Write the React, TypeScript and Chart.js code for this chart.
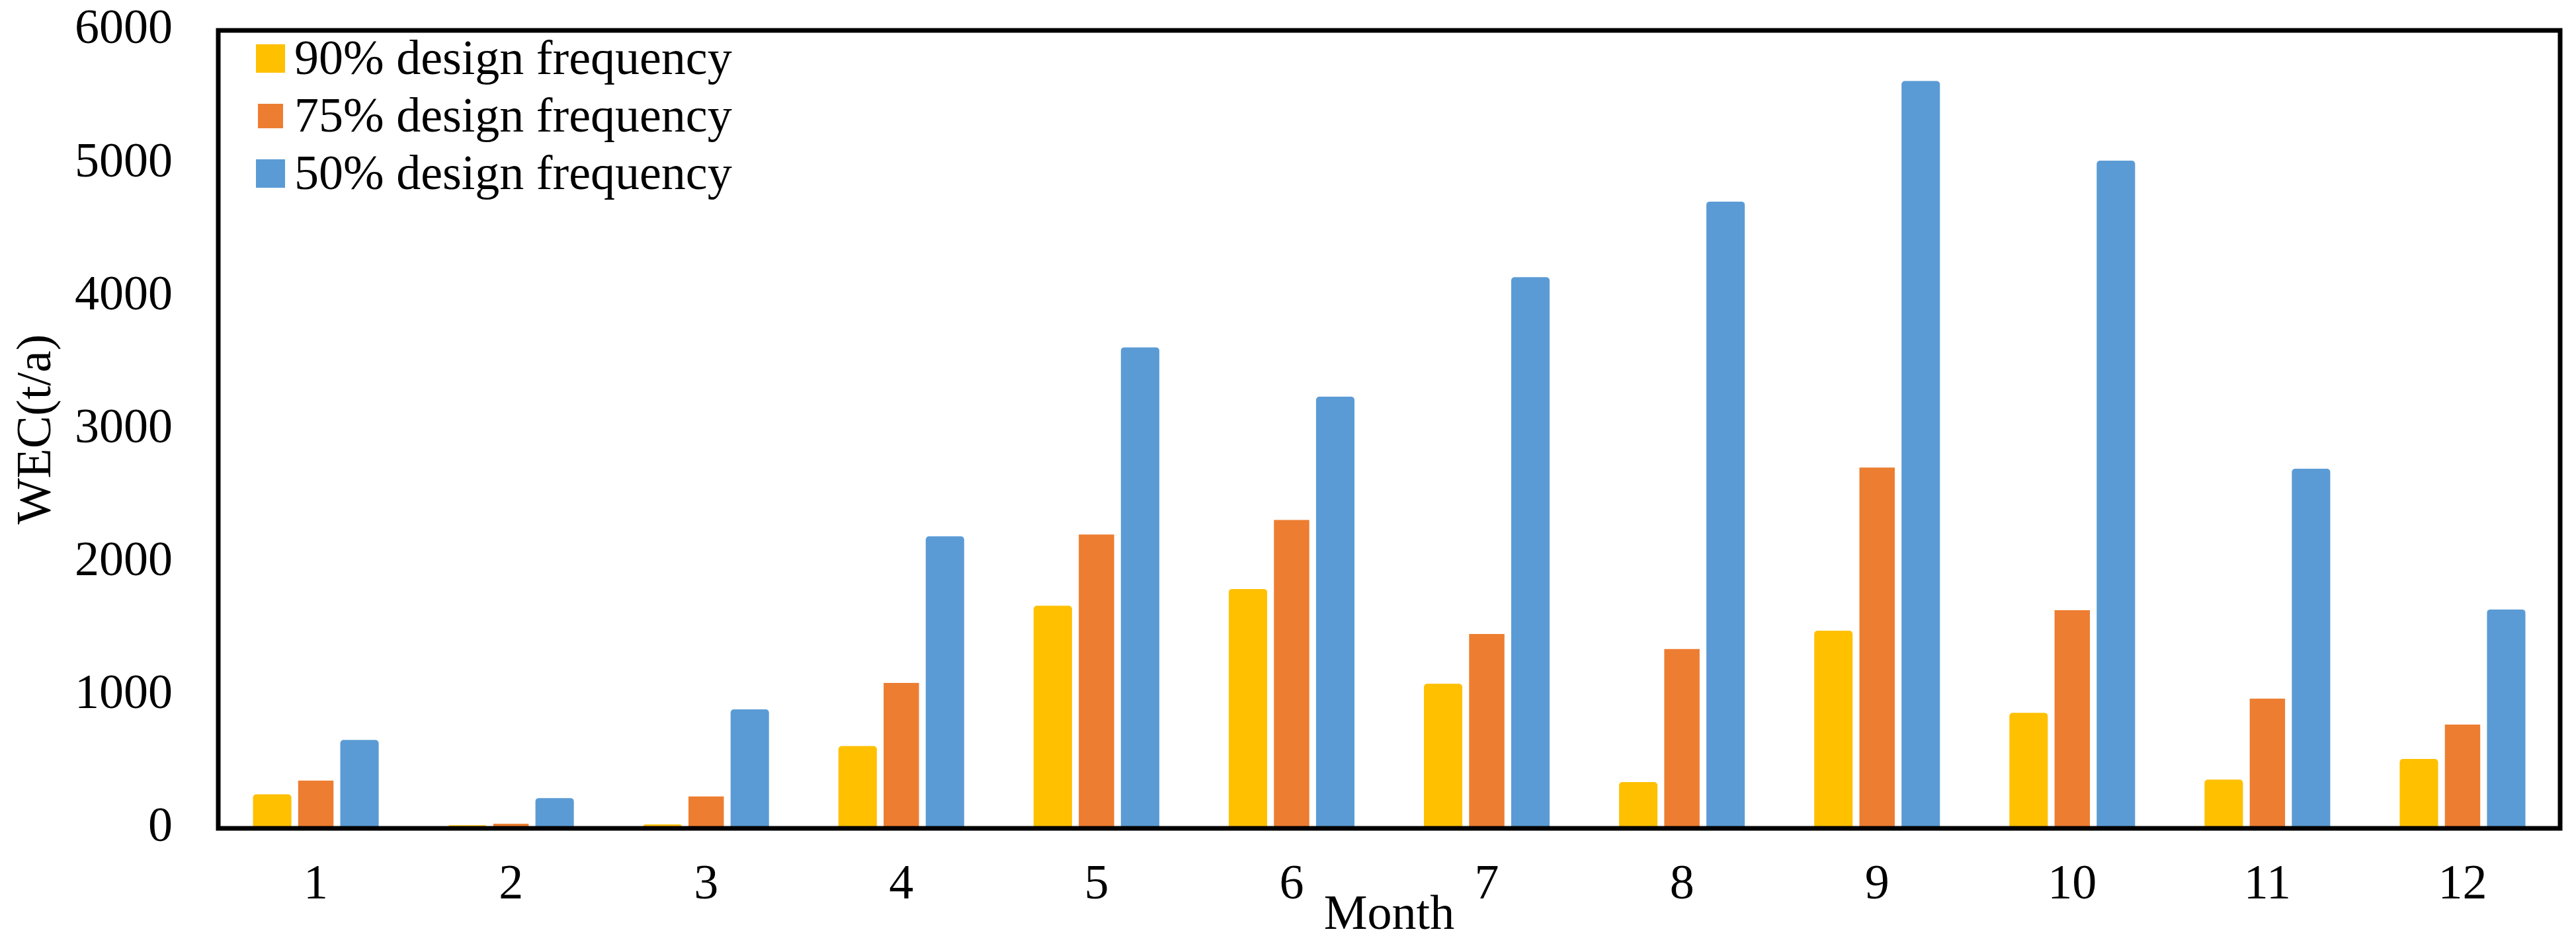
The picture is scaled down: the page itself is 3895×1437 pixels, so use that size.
import React, { useEffect, useRef } from "react";
import { Chart, registerables } from "chart.js";

Chart.register(...registerables);

const months = ["1", "2", "3", "4", "5", "6", "7", "8", "9", "10", "11", "12"];
const freq90 = [256, 23, 30, 619, 1674, 1800, 1087, 348, 1486, 869, 367, 522];
const freq75 = [359, 35, 240, 1094, 2210, 2319, 1462, 1348, 2713, 1641, 975, 781];
const freq50 = [665, 228, 895, 2196, 3617, 3246, 4145, 4713, 5620, 5021, 2704, 1646];
const seriesLabels = ["90% design frequency", "75% design frequency", "50% design frequency"];
const seriesColors = ["#FFC000", "#ED7D31", "#5B9BD5"];
const yMin = 0;
const yMax = 6000;
const yStep = 1000;
const xTitle = "Month";
const yTitle = "WEC(t/a)";

const FONT = "'Liberation Serif', 'Times New Roman', serif";
const FS = 74;

const frameAndLegend = {
  id: "frameAndLegend",
  afterDatasetsDraw(chart: any) {
    const { ctx, chartArea } = chart;
    const { left, top, right, bottom } = chartArea;
    ctx.save();
    ctx.strokeStyle = "#000";
    ctx.lineWidth = 7;
    ctx.lineJoin = "miter";
    ctx.strokeRect(left, top, right - left, bottom - top);
    ctx.restore();
  },
  afterDraw(chart: any) {
    const { ctx, chartArea } = chart;
    const { left, top } = chartArea;
    ctx.save();
    ctx.font = `${FS}px ${FONT}`;
    ctx.textAlign = "left";
    ctx.textBaseline = "alphabetic";
    chart.data.datasets.forEach((ds: any, i: number) => {
      const inset = ds.barPercentage < 0.85 ? 3 : 0;
      const bx = left + 57 + inset;
      const by = top + 21 + i * 87 + inset;
      ctx.fillStyle = ds.backgroundColor;
      ctx.fillRect(bx, by, 44 - 2 * inset, 43 - 2 * inset);
      ctx.fillStyle = "#000";
      ctx.fillText(ds.label, left + 115, top + 66 + i * 87);
    });
    ctx.restore();
  },
};

export default function App() {
  const ref = useRef<HTMLCanvasElement | null>(null);
  useEffect(() => {
    if (!ref.current) return;
    const values = [freq90, freq75, freq50];
    const chart = new Chart(ref.current, {
      type: "bar",
      data: {
        labels: months,
        datasets: values.map((v, i) => ({
          label: seriesLabels[i],
          data: v,
          backgroundColor: seriesColors[i],
          borderWidth: 0,
          borderRadius: i === 1 ? 0 : 5,
          borderSkipped: "start",
          categoryPercentage: 0.671,
          barPercentage: i === 1 ? 0.81 : 0.88,
        })),
      },
      options: {
        responsive: false,
        animation: false,
        devicePixelRatio: 1,
        layout: { padding: { left: 0, top: 46, right: 24, bottom: 0 } },
        plugins: { legend: { display: false }, tooltip: { enabled: false } },
        scales: {
          x: {
            grid: { display: false, drawTicks: false },
            border: { display: false },
            ticks: {
              color: "#000",
              font: { family: FONT, size: FS },
              padding: 42,
              maxRotation: 0,
              autoSkip: false,
            },
            title: {
              display: true,
              text: xTitle,
              color: "#000",
              font: { family: FONT, size: FS },
              padding: { top: 0, bottom: 7 },
            },
            afterFit(s: any) {
              s.height = 184;
              s.paddingLeft = 0;
              s.paddingRight = 0;
            },
          },
          y: {
            min: yMin,
            max: yMax,
            grid: { display: false, drawTicks: false },
            border: { display: false },
            ticks: {
              stepSize: yStep,
              color: "#000",
              font: { family: FONT, size: FS },
              padding: 69,
              callback: (v: any) => String(v),
            },
            title: {
              display: true,
              text: yTitle,
              color: "#000",
              font: { family: FONT, size: FS },
              padding: { top: 12, bottom: 0 },
            },
            afterFit(s: any) {
              s.width = 330;
              s.paddingTop = 0;
              s.paddingBottom = 0;
            },
          },
        },
      },
      plugins: [frameAndLegend],
    } as any);
    return () => chart.destroy();
  }, []);
  return (
    <div style={{ position: "absolute", left: 0, top: 0, width: 3895, height: 1437, background: "#fff" }}>
      <canvas ref={ref} width={3895} height={1437} style={{ display: "block", width: 3895, height: 1437 }} />
    </div>
  );
}
